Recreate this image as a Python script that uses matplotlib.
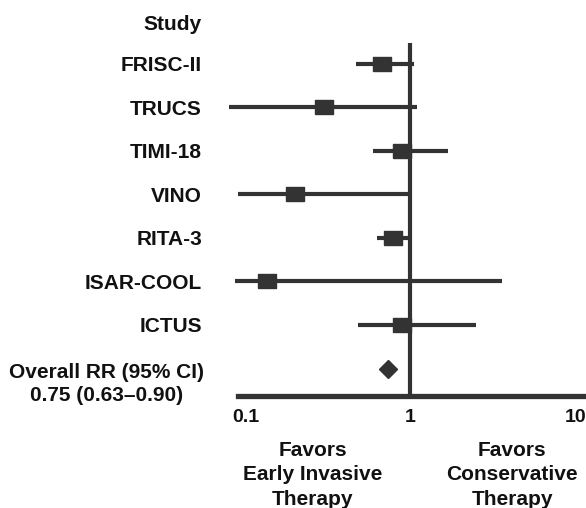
import matplotlib
matplotlib.use("Agg")
import matplotlib.pyplot as plt
import matplotlib.transforms as mtransforms

plt.rcParams['font.family'] = ['Liberation Sans', 'DejaVu Sans']
plt.rcParams['font.weight'] = 'bold'

studies = ["FRISC-II", "TRUCS", "TIMI-18", "VINO", "RITA-3", "ISAR-COOL", "ICTUS"]
rr = [0.67, 0.30, 0.89, 0.20, 0.78, 0.135, 0.89]
ci_low = [0.47, 0.08, 0.59, 0.09, 0.63, 0.086, 0.48]
ci_high = [1.05, 1.09, 1.69, 1.0, 1.0, 3.6, 2.5]
overall_rr = 0.73
overall_text = "Overall RR (95% CI)\n0.75 (0.63\u20130.90)"
xticks = [0.1, 1, 10]
xticklabels = ["0.1", "1", "10"]

dark = "#333333"
txt = "#111111"
fs = 15
W, H = 586, 508
fig = plt.figure(figsize=(W / 100, H / 100), dpi=100)
# axes spans pixel x 220..586, y 20..396
ax = fig.add_axes([220 / W, (H - 396) / H, 366 / W, 376 / H])
ax.set_xscale("log")
ax.set_xlim(0.0701, 11.58)
ax.set_ylim(7.63, -1.0)

rows = list(range(len(studies)))
ax.hlines(rows, ci_low, ci_high, color=dark, lw=3.0)
ax.vlines(1, -0.48, 7.63, color=dark, lw=3.0)
rect = [(-1.4, -1), (1.4, -1), (1.4, 1), (-1.4, 1), (-1.4, -1)]
ax.plot(rr, rows, ls="none", marker=rect, ms=13.5, color=dark, mec=dark, zorder=3)
ax.plot([overall_rr], [len(studies)], ls="none", marker="D", ms=9, color=dark, zorder=3)

for s in ["top", "right", "left"]:
    ax.spines[s].set_visible(False)
ax.spines["bottom"].set_linewidth(3.8)
ax.spines["bottom"].set_color(dark)
ax.spines["bottom"].set_bounds(0.0905, 11.58)

ax.set_xticks(xticks)
ax.set_xticklabels(xticklabels, fontsize=14, fontweight="bold", color=txt)
ax.xaxis.set_minor_locator(matplotlib.ticker.NullLocator())
ax.tick_params(axis="x", length=0, pad=9)

ax.set_yticks(rows)
ax.set_yticklabels(studies, fontsize=fs, fontweight="bold", color=txt)
ax.tick_params(axis="y", length=0, pad=13)

trans = mtransforms.blended_transform_factory(fig.transFigure, ax.transData)
ax.text(202 / W, -0.9, "Study", transform=trans, ha="right", va="center",
        fontsize=fs, fontweight="bold", color=txt)
ax.text(204 / W, 7.36, overall_text, transform=trans, ha="right", va="center",
        multialignment="center", linespacing=1.25, fontsize=fs,
        fontweight="bold", color=txt, clip_on=False)

fig.text(313 / W, (H - 475) / H, "Favors\nEarly Invasive\nTherapy", ha="center",
         va="center", linespacing=1.38, fontsize=fs, fontweight="bold", color=txt)
fig.text(512 / W, (H - 475) / H, "Favors\nConservative\nTherapy", ha="center",
         va="center", linespacing=1.38, fontsize=fs, fontweight="bold", color=txt)

fig.savefig("out.png", dpi=100)
